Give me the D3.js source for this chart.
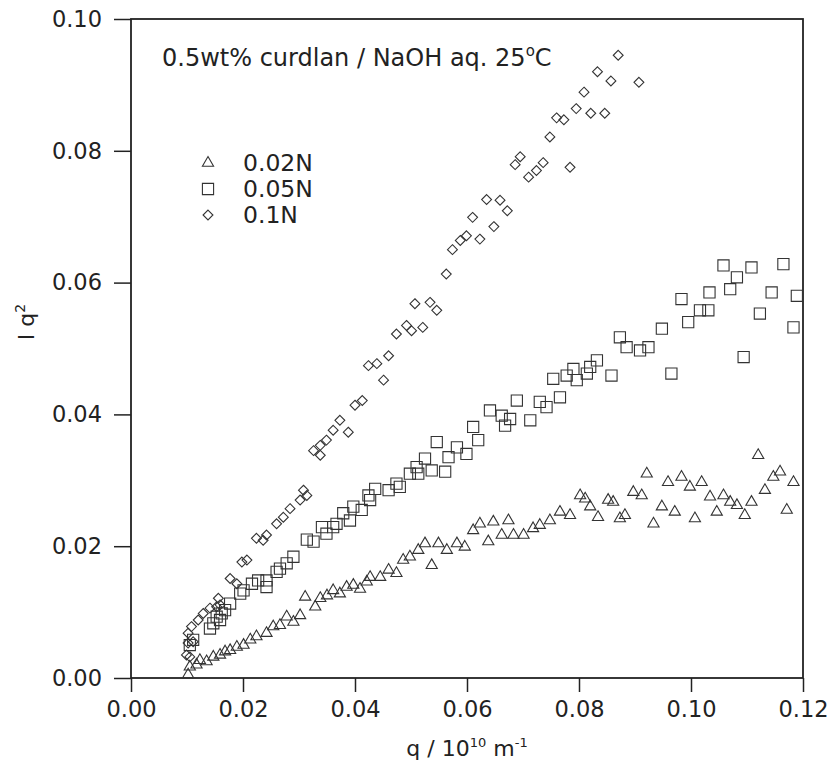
<!DOCTYPE html>
<html>
<head>
<meta charset="utf-8">
<script src="https://cdn.jsdelivr.net/npm/d3@7/dist/d3.min.js"></script>
<style>
	body { margin: 0; background: #fff; }
	#chart text { font-family: "DejaVu Sans", sans-serif; fill: #222; }
</style>
</head>
<body>
<div id="chart"></div>
<script>
// axis ticks
const xTicks = [0, 0.02, 0.04, 0.06, 0.08, 0.1, 0.12]
const yTicks = [0, 0.02, 0.04, 0.06, 0.08, 0.1]

const seriesNames = ["0.02N", "0.05N", "0.1N"]

// 0.02N (triangles)
const qTri = [
	0.0102, 0.0105, 0.0117, 0.0123, 0.0135, 0.0147, 0.0159, 0.0168, 0.0177, 0.0189,
	0.0201, 0.0213, 0.0224, 0.0242, 0.0254, 0.0266, 0.0278, 0.029, 0.0302, 0.0311,
	0.0329, 0.0338, 0.035, 0.0361, 0.0373, 0.0385, 0.0397, 0.0409, 0.0421, 0.0427,
	0.0445, 0.046, 0.0474, 0.0486, 0.0498, 0.0513, 0.0525, 0.0537, 0.0549, 0.0564,
	0.0582, 0.0596, 0.0611, 0.0623, 0.0638, 0.0647, 0.0662, 0.0674, 0.0683, 0.0701,
	0.0718, 0.073, 0.0748, 0.0766, 0.0784, 0.0802, 0.0811, 0.082, 0.0834, 0.0852,
	0.0861, 0.0873, 0.0882, 0.0897, 0.0912, 0.0921, 0.0933, 0.0948, 0.0959, 0.0971,
	0.0983, 0.0998, 0.1007, 0.1019, 0.1034, 0.1046, 0.1058, 0.107, 0.1082, 0.1096,
	0.1108, 0.112, 0.1132, 0.1147, 0.1159, 0.1171, 0.1183,
]
const iTri = [
	0.0005, 0.0017, 0.002, 0.0027, 0.0025, 0.0032, 0.0035, 0.004, 0.0042, 0.0047,
	0.005, 0.0058, 0.0063, 0.0068, 0.0078, 0.008, 0.0093, 0.0085, 0.0095, 0.0123,
	0.0108, 0.0121, 0.0125, 0.0133, 0.0128, 0.0138, 0.0141, 0.0135, 0.0146, 0.0153,
	0.0153, 0.0164, 0.0159, 0.0179, 0.0184, 0.0194, 0.0204, 0.0171, 0.0204, 0.0194,
	0.0204, 0.0199, 0.0224, 0.0234, 0.0207, 0.0237, 0.0217, 0.0239, 0.0217, 0.0217,
	0.0227, 0.0232, 0.0239, 0.0252, 0.0247, 0.0277, 0.0272, 0.026, 0.0244, 0.027,
	0.0267, 0.0242, 0.0247, 0.0282, 0.0277, 0.031, 0.0234, 0.026, 0.0297, 0.0252,
	0.0305, 0.029, 0.0242, 0.0297, 0.0275, 0.0252, 0.0277, 0.0267, 0.0262, 0.0247,
	0.0267, 0.0338, 0.0285, 0.0305, 0.0313, 0.0255, 0.0297,
]

// 0.05N (squares)
const qSq = [
	0.0105, 0.0111, 0.0141, 0.0147, 0.0153, 0.0159, 0.0162, 0.0168, 0.0177, 0.0195,
	0.0201, 0.0216, 0.0227, 0.0242, 0.0242, 0.026, 0.0266, 0.0278, 0.029, 0.0314,
	0.0326, 0.0341, 0.0349, 0.0361, 0.0367, 0.0379, 0.0391, 0.0397, 0.0412, 0.0424,
	0.0427, 0.0436, 0.046, 0.0474, 0.048, 0.0498, 0.051, 0.0513, 0.0525, 0.0537,
	0.0546, 0.0561, 0.0567, 0.0582, 0.0599, 0.0611, 0.062, 0.0641, 0.0662, 0.0668,
	0.0677, 0.0689, 0.0713, 0.073, 0.0742, 0.0754, 0.0766, 0.0778, 0.079, 0.0796,
	0.0814, 0.082, 0.0832, 0.0858, 0.0873, 0.0885, 0.0909, 0.0924, 0.0948, 0.0965,
	0.0983, 0.0995, 0.1016, 0.1031, 0.1033, 0.1058, 0.107, 0.1082, 0.1094, 0.1108,
	0.1123, 0.1144, 0.1165, 0.1183, 0.1189,
]
const iSq = [
	0.005, 0.0058, 0.0075, 0.0083, 0.0093, 0.0088, 0.0098, 0.0103, 0.0113, 0.0128,
	0.0133, 0.0143, 0.0148, 0.0138, 0.0148, 0.0161, 0.0166, 0.0174, 0.0184, 0.021,
	0.0207, 0.0229, 0.0219, 0.0229, 0.0234, 0.025, 0.0239, 0.026, 0.0255, 0.0277,
	0.027, 0.0287, 0.0285, 0.0295, 0.029, 0.031, 0.032, 0.031, 0.0333, 0.0315,
	0.0358, 0.0313, 0.0335, 0.035, 0.034, 0.0381, 0.0361, 0.0406, 0.0398, 0.0383,
	0.0393, 0.0421, 0.0391, 0.0419, 0.0411, 0.0454, 0.0426, 0.0459, 0.0469, 0.0452,
	0.0462, 0.0472, 0.0482, 0.0459, 0.0517, 0.0502, 0.0497, 0.0502, 0.053, 0.0462,
	0.0575, 0.054, 0.0558, 0.0558, 0.0585, 0.0626, 0.059, 0.0608, 0.0487, 0.0623,
	0.0553, 0.0585, 0.0628, 0.0532, 0.058,
]

// 0.1N (diamonds)
const qDia = [
	0.0099, 0.0105, 0.0102, 0.0111, 0.0102, 0.0108, 0.012, 0.0129, 0.0141, 0.0153,
	0.0156, 0.0159, 0.0177, 0.0189, 0.0198, 0.0207, 0.0224, 0.0236, 0.0242, 0.026,
	0.0272, 0.0284, 0.0302, 0.0308, 0.0314, 0.0326, 0.0338, 0.0338, 0.0349, 0.0361,
	0.0373, 0.0388, 0.04, 0.0413, 0.0424, 0.0439, 0.0451, 0.046, 0.0474, 0.0492,
	0.0501, 0.0507, 0.0521, 0.0534, 0.0546, 0.0563, 0.0574, 0.0588, 0.0599, 0.061,
	0.0623, 0.0635, 0.0648, 0.0659, 0.0672, 0.0686, 0.0695, 0.071, 0.0724, 0.0736,
	0.0748, 0.076, 0.0773, 0.0784, 0.0795, 0.0809, 0.0821, 0.0833, 0.0846, 0.0857,
	0.087, 0.0907,
]
const iDia = [
	0.0035, 0.0032, 0.0053, 0.0055, 0.0068, 0.0078, 0.0088, 0.0098, 0.0106, 0.0108,
	0.0121, 0.0111, 0.0151, 0.0143, 0.0176, 0.0179, 0.0212, 0.0209, 0.0217, 0.0234,
	0.0244, 0.0257, 0.027, 0.0285, 0.0277, 0.0345, 0.0353, 0.0338, 0.0361, 0.0376,
	0.0391, 0.0373, 0.0414, 0.0421, 0.0474, 0.0477, 0.0452, 0.0489, 0.0522, 0.0535,
	0.0527, 0.0568, 0.0532, 0.057, 0.0558, 0.0613, 0.065, 0.0664, 0.0671, 0.0699,
	0.0666, 0.0726, 0.0685, 0.0725, 0.0709, 0.0779, 0.0791, 0.076, 0.077, 0.0782,
	0.0821, 0.085, 0.0847, 0.0775, 0.0864, 0.0889, 0.0857, 0.092, 0.0857, 0.0906,
	0.0945, 0.0904,
]

class CurdlanChart {
	constructor(containerId) {
		this.containerId = containerId
		this.width = 831
		this.height = 778
		this.margin = { top: 19, right: 28, bottom: 100, left: 131 }
		this.ink = "#222"
	}

	draw() {
		this.createSvg()
		this.createScales()
		this.createAxes()
		this.drawPoints()
		this.createLabels()
		this.createLegend()
	}

	createSvg() {
		this.svg = d3
			.select(`#${this.containerId}`)
			.append("svg")
			.attr("width", this.width)
			.attr("height", this.height)
		this.innerW = this.width - this.margin.left - this.margin.right
		this.innerH = this.height - this.margin.top - this.margin.bottom
		this.g = this.svg
			.append("g")
			.attr("transform", `translate(${this.margin.left},${this.margin.top})`)
	}

	createScales() {
		this.xScale = d3.scaleLinear().domain([0, 0.12]).range([0, this.innerW])
		this.yScale = d3.scaleLinear().domain([0, 0.1]).range([this.innerH, 0])
	}

	createAxes() {
		const fmt = d3.format(".2f")

		const xAxis = this.g
			.append("g")
			.attr("transform", `translate(0,${this.innerH})`)
			.call(
				d3.axisBottom(this.xScale)
					.tickValues(xTicks)
					.tickFormat(fmt)
					.tickSize(14)
					.tickPadding(9)
			)
		const yAxis = this.g
			.append("g")
			.call(
				d3.axisLeft(this.yScale)
					.tickValues(yTicks)
					.tickFormat(fmt)
					.tickSize(17)
					.tickPadding(12)
			)

		;[xAxis, yAxis].forEach((ax) => {
			ax.select(".domain").remove()
			ax.selectAll("line").attr("stroke", this.ink).attr("stroke-width", 1.5)
			ax.selectAll("text")
				.style("font-size", "22.5px")
				.attr("fill", this.ink)
		})

		// plot frame
		this.g
			.append("rect")
			.attr("width", this.innerW)
			.attr("height", this.innerH)
			.attr("fill", "none")
			.attr("stroke", this.ink)
			.attr("stroke-width", 1.8)
	}

	symbolPath(kind) {
		if (kind === 0) return d3.symbol(d3.symbolTriangle, 54)()
		if (kind === 1) return d3.symbol(d3.symbolSquare, 125)()
		return d3.symbol(d3.symbolDiamond2, 62)()
	}

	drawPoints() {
		const sets = [
			{ q: qTri, i: iTri },
			{ q: qSq, i: iSq },
			{ q: qDia, i: iDia },
		]
		sets.forEach((s, k) => {
			const pts = s.q.map((q, j) => ({ q: q, v: s.i[j] }))
			this.g
				.append("g")
				.selectAll("path")
				.data(pts)
				.join("path")
				.attr("d", this.symbolPath(k))
				.attr("transform", (d) => `translate(${this.xScale(d.q)},${this.yScale(d.v)})`)
				.attr("fill", "none")
				.attr("stroke", "#333")
				.attr("stroke-width", 1.1)
		})
	}

	createLabels() {
		// title inside the plot
		const title = this.svg
			.append("text")
			.attr("x", 162)
			.attr("y", 66)
			.style("font-size", "24px")
		title.append("tspan").text("0.5wt% curdlan / NaOH aq. 25")
		title.append("tspan").attr("dy", -10).style("font-size", "15px").text("o")
		title.append("tspan").attr("dy", 10).text("C")

		// x axis title
		const xt = this.svg
			.append("text")
			.attr("x", this.margin.left + this.innerW / 2)
			.attr("y", 756)
			.attr("text-anchor", "middle")
			.style("font-size", "22px")
		xt.append("tspan").text("q / 10")
		xt.append("tspan").attr("dy", -9).style("font-size", "13px").text("10")
		xt.append("tspan").attr("dy", 9).text(" m")
		xt.append("tspan").attr("dy", -9).style("font-size", "13px").text("-1")

		// y axis title
		const yt = this.svg
			.append("text")
			.attr("transform", "translate(34,322) rotate(-90)")
			.attr("text-anchor", "middle")
			.style("font-size", "22px")
		yt.append("tspan").text("I q")
		yt.append("tspan").attr("dy", -9).style("font-size", "14px").text("2")
	}

	createLegend() {
		const legend = this.svg.append("g").attr("transform", "translate(208,163)")
		seriesNames.forEach((name, k) => {
			const row = legend.append("g").attr("transform", `translate(0,${k * 26})`)
			row.append("path")
				.attr("d", this.symbolPath(k))
				.attr("fill", "none")
				.attr("stroke", "#333")
				.attr("stroke-width", 1.1)
			row.append("text")
				.attr("x", 35)
				.attr("y", 8)
				.style("font-size", "23.5px")
				.text(name)
		})
	}
}

new CurdlanChart("chart").draw()
</script>
</body>
</html>
